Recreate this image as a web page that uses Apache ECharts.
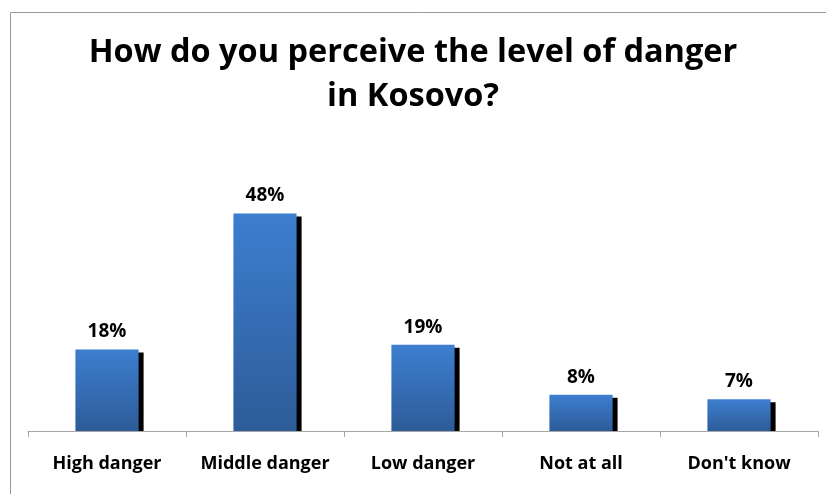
<!DOCTYPE html>
<html><head><meta charset="utf-8">
<script src="https://cdn.jsdelivr.net/npm/echarts@6/dist/echarts.min.js"></script>
<style>html,body{margin:0;padding:0;background:#fff}#c{width:826px;height:494px}</style>
</head><body><div id="c"></div>
<script>
const titleText = 'How do you perceive the level of danger\nin Kosovo?';
const categories = ['High danger', 'Middle danger', 'Low danger', 'Not at all', "Don't know"];
const values = [18, 48, 19, 8, 7];

const chart = echarts.init(document.getElementById('c'), null, {renderer: 'canvas'});
const FONT = '"Open Sans", sans-serif';
chart.setOption({
  animation: false,
  backgroundColor: '#fff',
  graphic: [{
    type: 'rect', shape: {x: 10.5, y: 12.5, width: 900, height: 600},
    style: {fill: 'none', stroke: '#9a9a9a', lineWidth: 1}, silent: true, z: -10
  }],
  title: {
    text: titleText, left: 'center', top: 26,
    textStyle: {fontFamily: FONT, fontWeight: 'bold', fontSize: 32.5, lineHeight: 44, color: '#000'}
  },
  grid: {left: 28, right: 8, top: 159, bottom: 63, containLabel: false},
  xAxis: {
    type: 'category', data: categories,
    axisLine: {lineStyle: {color: '#a6a6a6', width: 1}},
    axisTick: {show: true, length: 6, alignWithLabel: false, lineStyle: {color: '#a6a6a6'}},
    axisLabel: {interval: 0, margin: 24, fontFamily: FONT, fontWeight: 'bold', fontSize: 18, color: '#000'}
  },
  yAxis: {type: 'value', min: 0, max: 60, show: false, splitLine: {show: false}},
  series: [{
    type: 'custom', z: 1,
    renderItem: function (params, api) {
      const base = api.coord([api.value(0), 0]);
      const top = api.coord([api.value(0), api.value(1)]);
      const w = api.size([1, 0])[0] * 0.4;
      return {
        type: 'rect',
        shape: {x: base[0] - w / 2 + 5, y: top[1] + 3, width: w, height: base[1] - top[1] - 3},
        style: {fill: '#000'}
      };
    },
    data: values.map((v, i) => [i, v])
  }, {
    type: 'bar', z: 2, data: values, barWidth: '40%',
    itemStyle: {color: new echarts.graphic.LinearGradient(0, 0, 0, 1, [
      {offset: 0, color: '#3d7ed0'}, {offset: 1, color: '#2d5c98'}])},
    label: {show: true, position: 'top', distance: 8, formatter: '{c}%',
      fontFamily: FONT, fontWeight: 'bold', fontSize: 19, color: '#000'}
  }]
});
</script></body></html>
